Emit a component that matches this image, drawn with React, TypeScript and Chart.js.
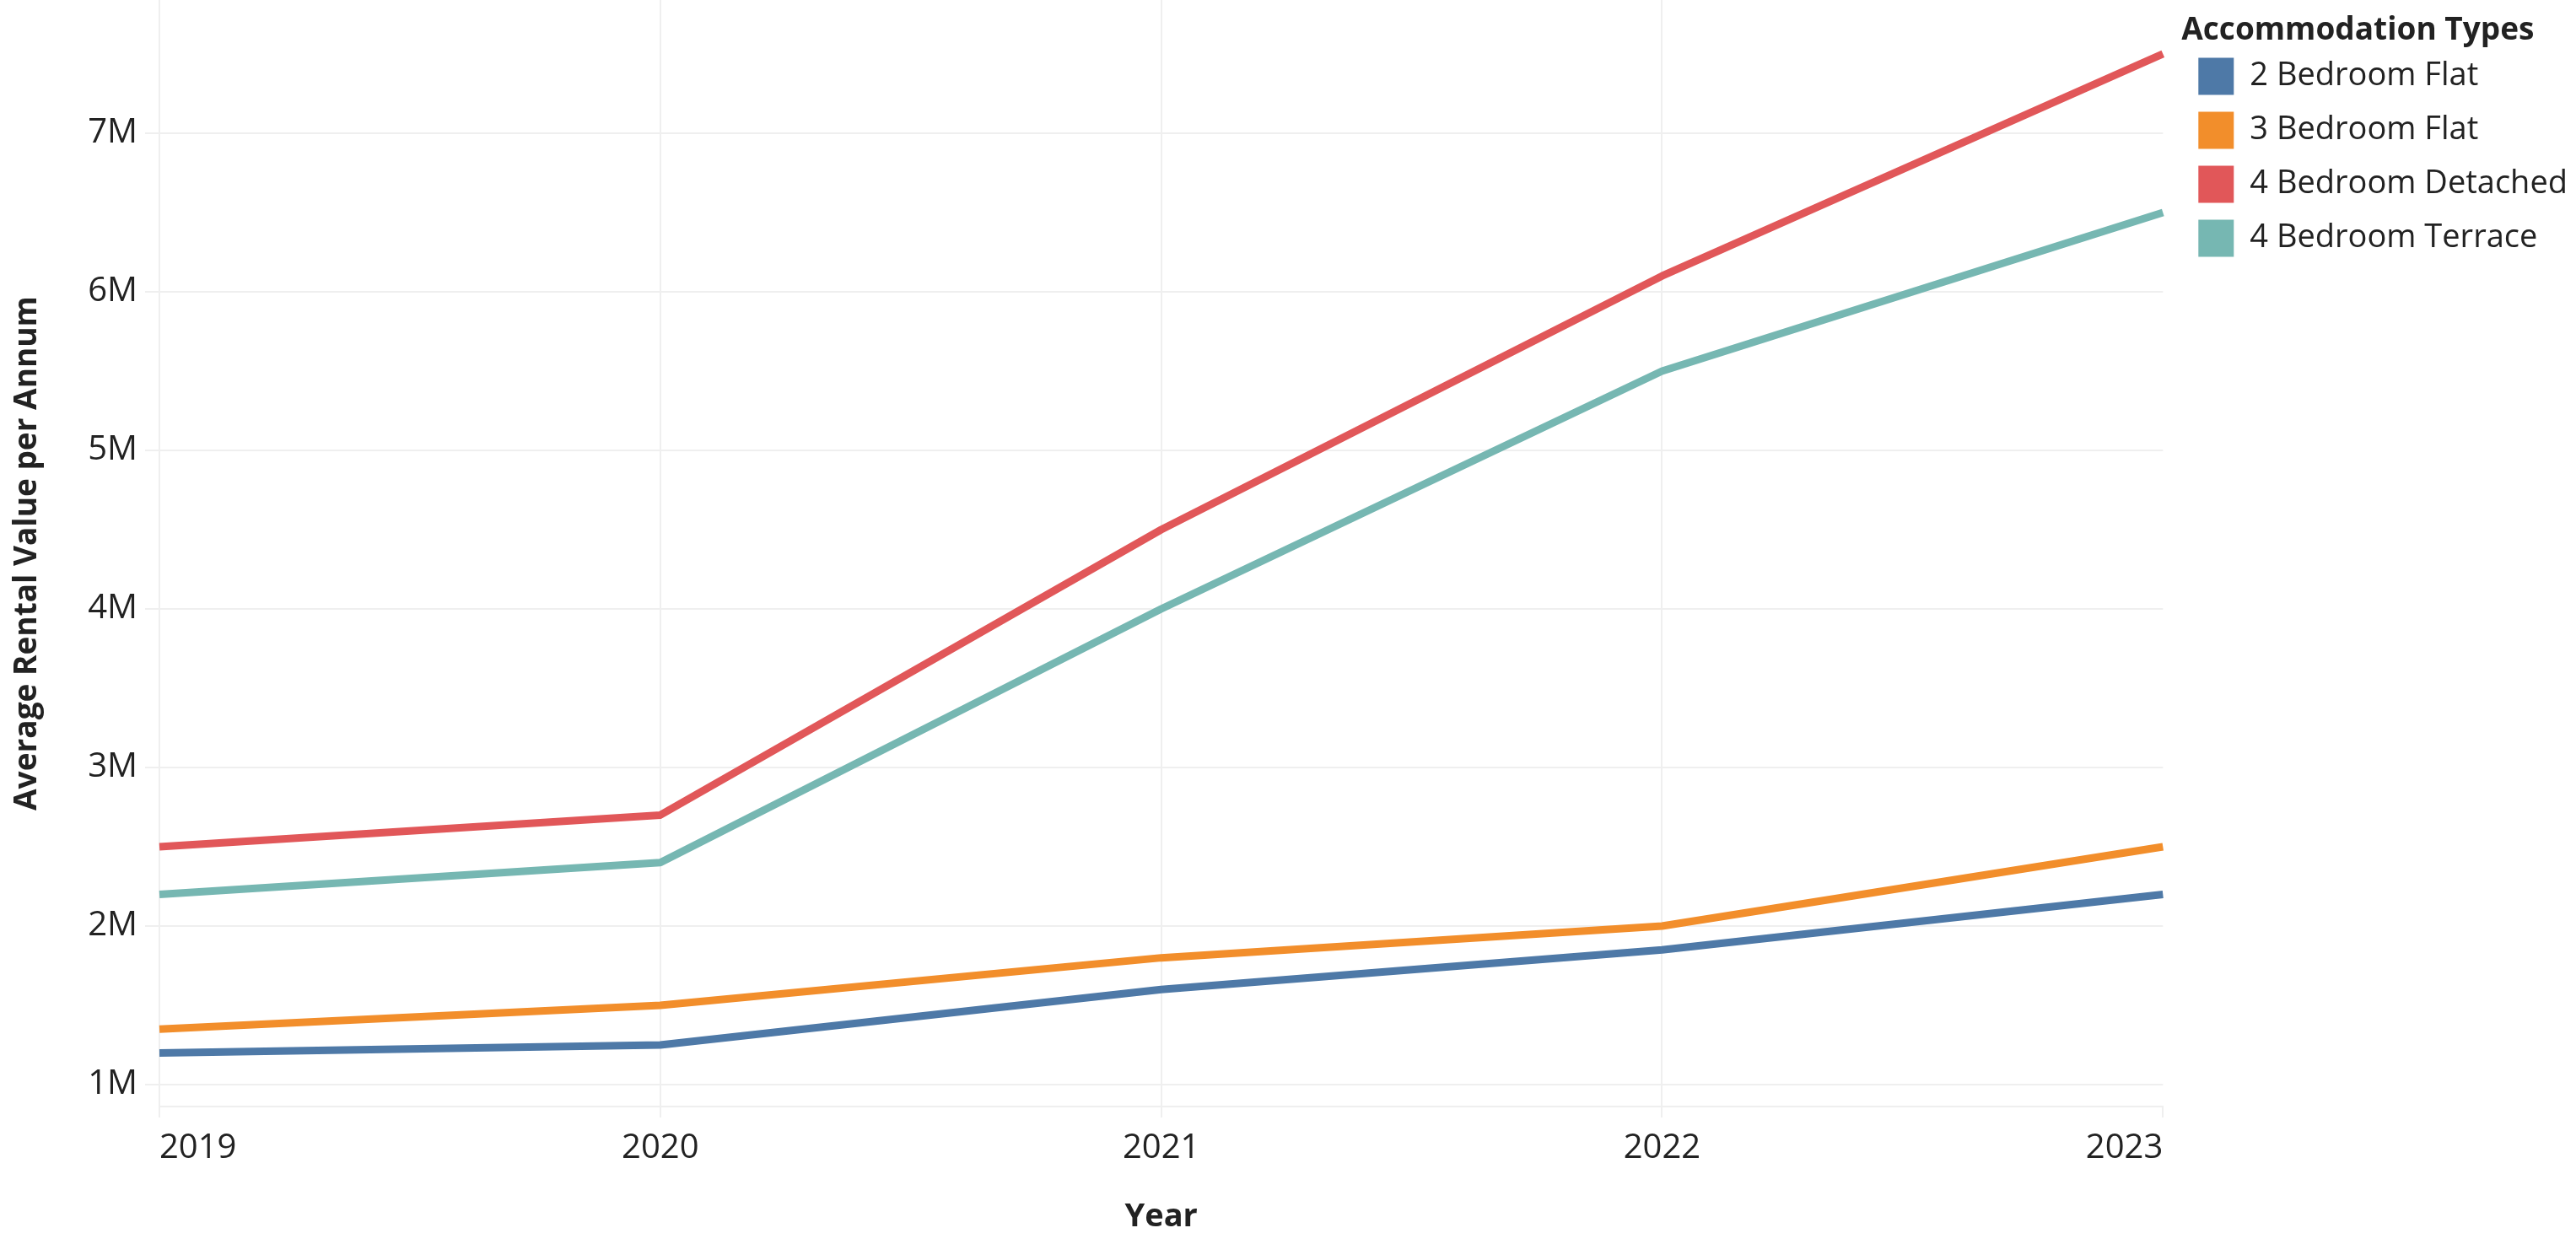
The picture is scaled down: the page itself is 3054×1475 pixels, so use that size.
import React, { useEffect, useRef } from "react";
import { Chart, registerables } from "chart.js";

Chart.register(...registerables);

const years = ["2019", "2020", "2021", "2022", "2023"];
const seriesNames = ["2 Bedroom Flat", "3 Bedroom Flat", "4 Bedroom Detached", "4 Bedroom Terrace"];
const twoBedFlat = [1200000, 1250000, 1600000, 1850000, 2200000];
const threeBedFlat = [1350000, 1500000, 1800000, 2000000, 2500000];
const fourBedDetached = [2500000, 2700000, 4500000, 6100000, 7500000];
const fourBedTerrace = [2200000, 2400000, 4000000, 5500000, 6500000];
const seriesColors = ["#4e79a7", "#f28e2b", "#e15759", "#76b7b2"];
const yTickValues = [1000000, 2000000, 3000000, 4000000, 5000000, 6000000, 7000000];

const FONT = "'Open Sans', 'DejaVu Sans', sans-serif";
const GRID = "#efefef";
const TEXT = "#222222";

export default function App() {
  const canvasRef = useRef<HTMLCanvasElement | null>(null);

  useEffect(() => {
    document.body.style.margin = "0";
    document.body.style.overflow = "hidden";
    const canvas = canvasRef.current;
    if (!canvas) return;
    const seriesValues = [twoBedFlat, threeBedFlat, fourBedDetached, fourBedTerrace];
    const chart = new Chart(canvas, {
      type: "line",
      data: {
        labels: years,
        datasets: seriesNames.map((name, i) => ({
          label: name,
          data: seriesValues[i],
          borderColor: seriesColors[i],
          backgroundColor: seriesColors[i],
          borderWidth: 9,
          pointRadius: 0,
          pointHoverRadius: 0,
          tension: 0,
          fill: false,
          borderJoinStyle: "round" as const,
          borderCapStyle: "butt" as const,
          yAxisID: "y",
        })),
      },
      options: {
        animation: false,
        responsive: true,
        maintainAspectRatio: false,
        devicePixelRatio: 1,
        layout: { padding: 0 },
        plugins: {
          tooltip: { enabled: false },
          legend: {
            position: "right",
            align: "start",
            title: {
              display: true,
              text: "Accommodation Types",
              position: "start",
              color: TEXT,
              font: { family: FONT, size: 37, weight: "bold", lineHeight: 1.2 },
              padding: { top: 18, bottom: -14 },
            },
            labels: {
              color: TEXT,
              font: { family: FONT, size: 38, lineHeight: 1.2 },
              boxWidth: 42,
              boxHeight: 44,
              padding: 20,
              generateLabels: (c: any) =>
                Chart.defaults.plugins.legend.labels
                  .generateLabels(c)
                  .map((l: any) => ({ ...l, lineWidth: 0, strokeStyle: "rgba(0,0,0,0)" })),
            },
          },
        },
        scales: {
          x: {
            type: "category",
            offset: false,
            grid: {
              color: (ctx: any) => (ctx.index === years.length - 1 ? "rgba(0,0,0,0)" : GRID),
              tickColor: GRID,
              lineWidth: 2,
              tickLength: 13,
              drawTicks: true,
            },
            border: { display: true, color: GRID, width: 2 },
            ticks: {
              align: "inner",
              color: TEXT,
              font: { family: FONT, size: 40, lineHeight: 1.2 },
              padding: 13,
              maxRotation: 0,
              autoSkip: false,
            },
            title: {
              display: true,
              text: "Year",
              color: TEXT,
              font: { family: FONT, size: 38, weight: "bold", lineHeight: 1.2 },
              padding: { top: 0, bottom: 9 },
            },
            afterFit: (s: any) => {
              s.height = 163;
              s.paddingLeft = 0;
              s.paddingRight = 0;
            },
          },
          y: {
            type: "linear",
            position: "left",
            min: 862000,
            max: 7840000,
            afterBuildTicks: (s: any) => {
              s.ticks = yTickValues.map((v) => ({ value: v }));
            },
            grid: {
              color: GRID,
              tickColor: GRID,
              lineWidth: 2,
              tickLength: 17,
            },
            border: { display: false },
            ticks: {
              color: TEXT,
              font: { family: FONT, size: 40, lineHeight: 1.2 },
              padding: 9,
              callback: (v: any) => `${Number(v) / 1000000}M`,
            },
            title: {
              display: true,
              text: "Average Rental Value per Annum",
              color: TEXT,
              font: { family: FONT, size: 37, weight: "bold", lineHeight: 1.2 },
              padding: { top: 10, bottom: 0 },
            },
            afterFit: (s: any) => {
              s.width = 189;
              s.paddingTop = 0;
              s.paddingBottom = 0;
            },
          },
          gap: {
            type: "linear",
            position: "right",
            display: true,
            grid: { display: false, drawTicks: false },
            border: { display: false },
            ticks: { display: false },
            afterFit: (s: any) => {
              s.width = 22;
              s.paddingTop = 0;
              s.paddingBottom = 0;
            },
          },
        },
      },
    });
    return () => chart.destroy();
  }, []);

  return (
    <div style={{ width: "3054px", height: "1475px", position: "relative", background: "#ffffff" }}>
      <canvas ref={canvasRef} />
    </div>
  );
}
